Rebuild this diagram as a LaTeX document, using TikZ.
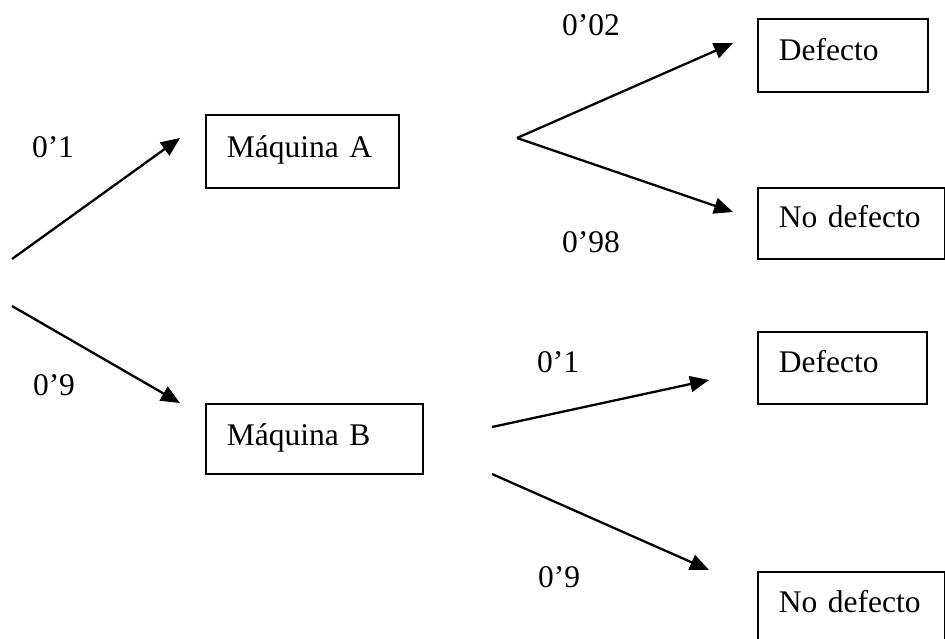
\documentclass[tikz,border=0pt]{standalone}
\usepackage{fontspec}
\setmainfont{Liberation Serif}
\usetikzlibrary{arrows.meta}
\begin{document}
\begin{tikzpicture}[x=1pt,y=-1pt,
  box/.style={draw, line width=1.8pt, anchor=north west, inner xsep=21pt, inner ysep=0pt,
    align=left, font=\fontsize{31.5}{38}\selectfont},
  lbl/.style={anchor=base, inner sep=0pt, font=\fontsize{31.5}{38}\selectfont},
  arr/.style={line width=2.3pt, -{Triangle[length=19pt,width=16pt]}}]
\useasboundingbox (0,0) rectangle (945,638);
\clip (0,0) rectangle (945,638);
% boxes
\node[box, text width=151pt, text height=43pt, text depth=30pt] (mA) at (205,114) {Máquina A};
\node[box, text width=175pt, text height=42pt, text depth=28pt] (mB) at (205,403) {Máquina B};
\node[box, text width=128pt, text height=42pt, text depth=31pt] (d1) at (757,18) {Defecto};
\node[box, text width=145pt, text height=40pt, text depth=31pt] (n1) at (757,187) {No defecto};
\node[box, text width=127pt, text height=41pt, text depth=31pt] (d2) at (757,331) {Defecto};
\node[box, text width=145pt, text height=41pt, text depth=40pt] (n2) at (757,571) {No defecto};
% connector end points
\coordinate (r1) at (12,259);
\coordinate (r2) at (12,306);
\coordinate (tA) at (180,138);
\coordinate (tB) at (180,403);
\coordinate (bA) at (517,138);
\coordinate (tD1) at (733,43);
\coordinate (tN1) at (733,212);
\coordinate (bB1) at (492,427);
\coordinate (bB2) at (492,474);
\coordinate (tD2) at (709,380);
\coordinate (tN2) at (709,570);
% arrows
\draw[arr] (r1) -- (tA);
\draw[arr] (r2) -- (tB);
\draw[arr] (bA) -- (tD1);
\draw[arr] (bA) -- (tN1);
\draw[arr] (bB1) -- (tD2);
\draw[arr] (bB2) -- (tN2);
% labels
\node[lbl] (p1) at (53,157) {0’1};
\node[lbl] (p2) at (54,395) {0’9};
\node[lbl] (p3) at (591,35) {0’02};
\node[lbl] (p4) at (591,252) {0’98};
\node[lbl] (p5) at (558,372) {0’1};
\node[lbl] (p6) at (559,587) {0’9};
\end{tikzpicture}
\end{document}
